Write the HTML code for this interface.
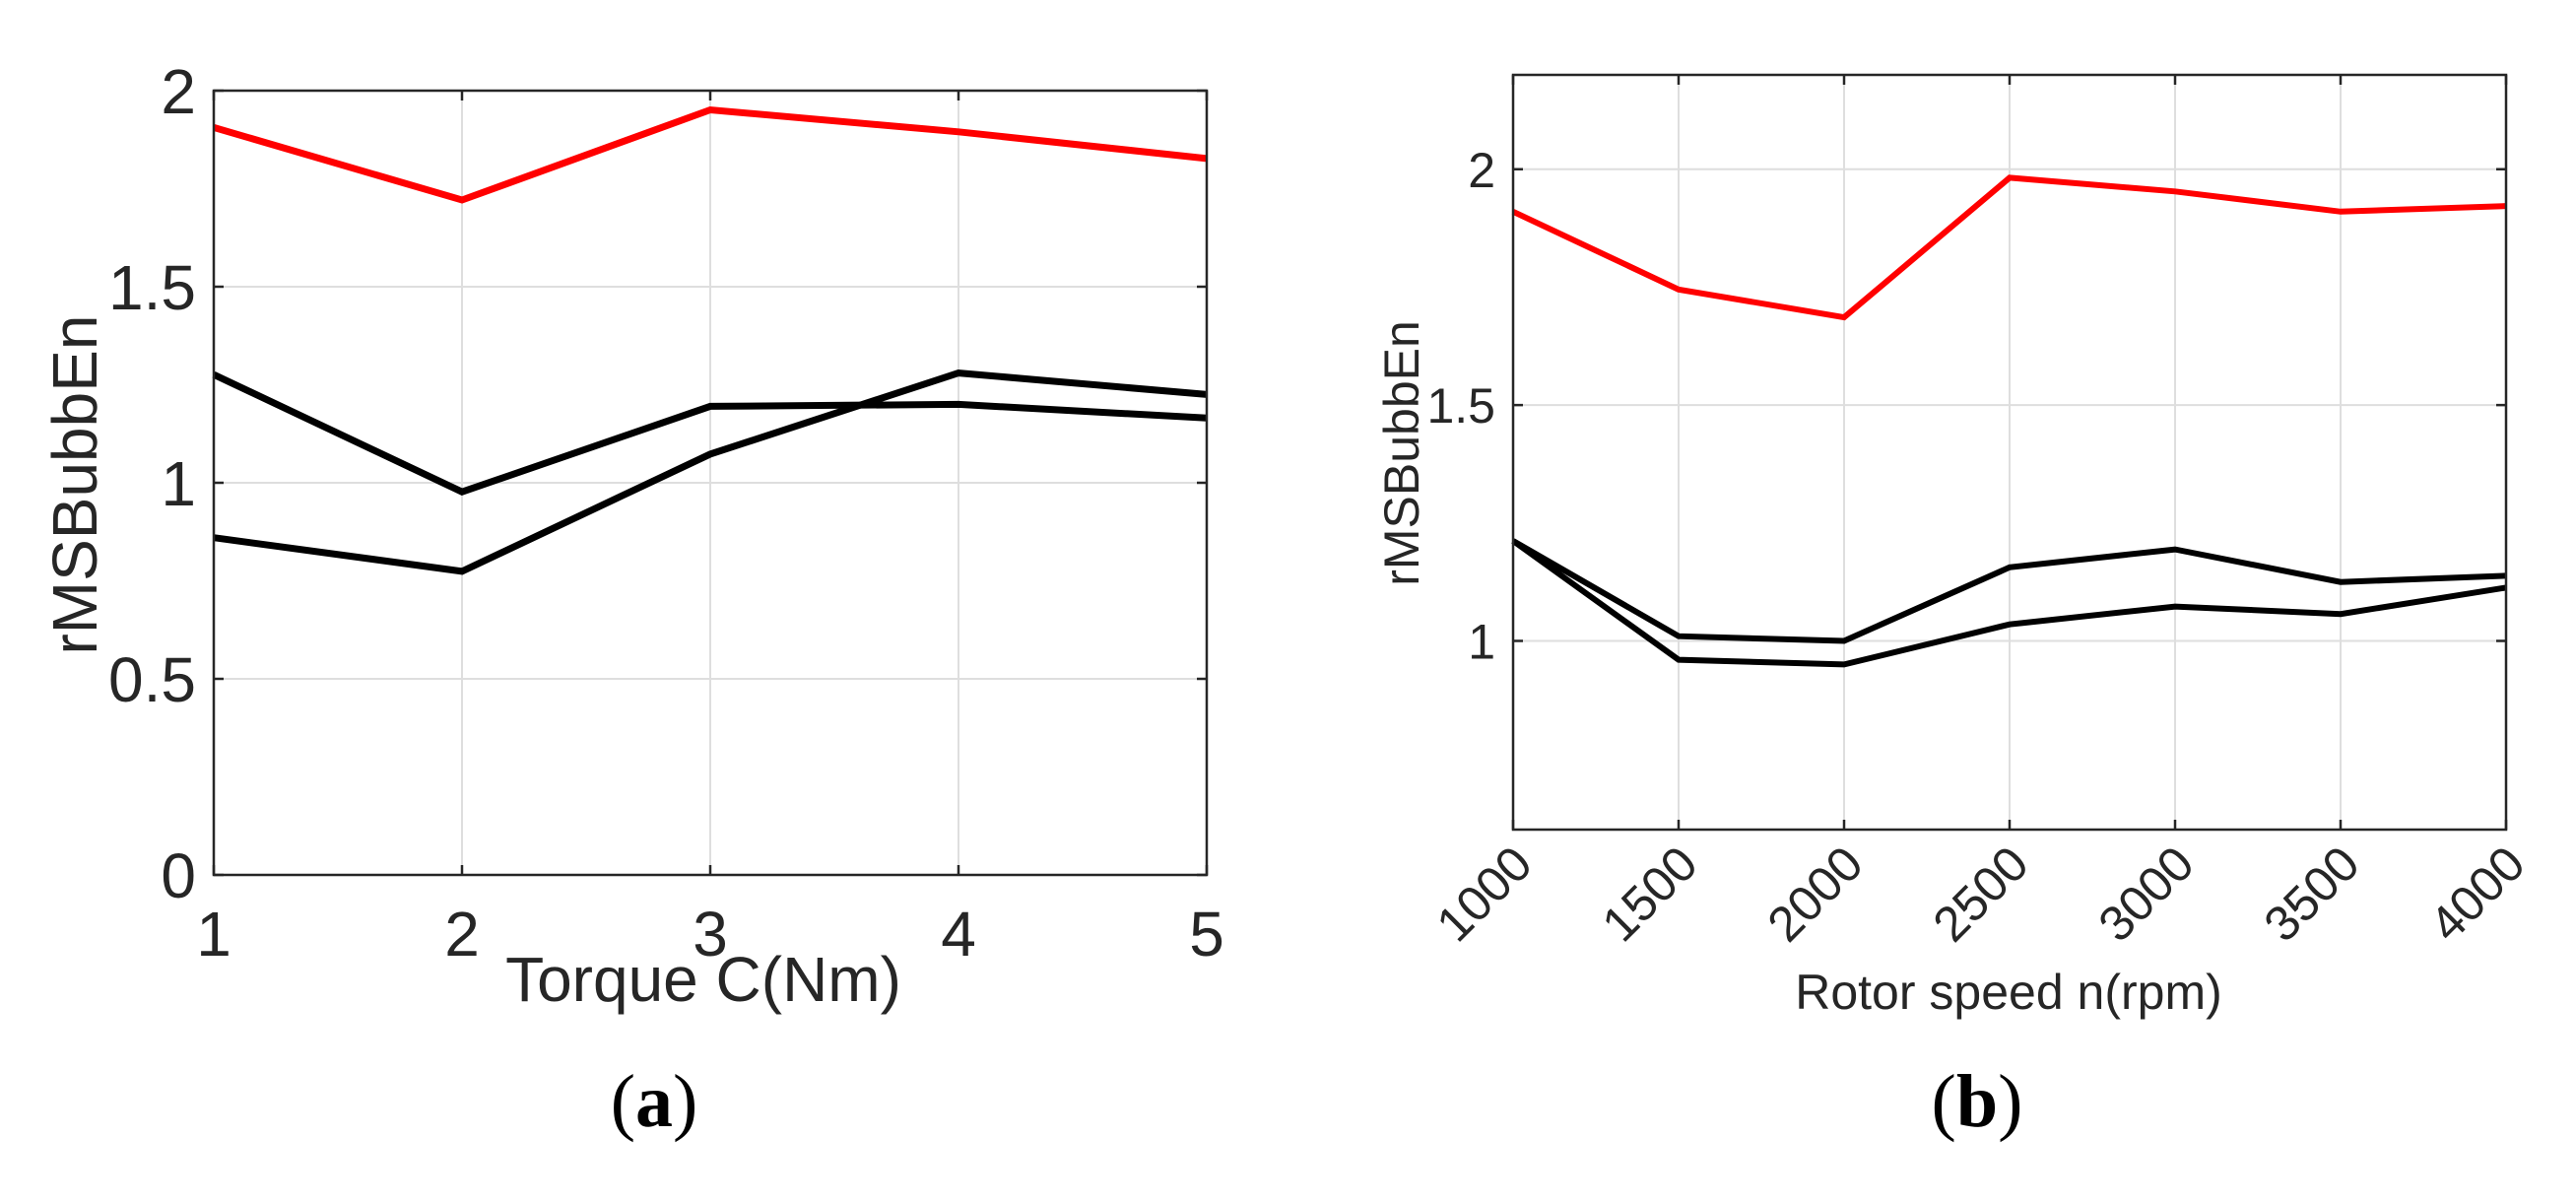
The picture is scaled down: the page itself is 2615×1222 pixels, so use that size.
<!DOCTYPE html>
<html><head><meta charset="utf-8"><style>
html,body{margin:0;padding:0;background:#fff;}
svg{display:block;font-family:"Liberation Sans",sans-serif;}
</style></head><body>
<svg id="fig" width="2615" height="1222" viewBox="0 0 2615 1222">
<g id="chartA"></g>
<g id="chartB"></g>
</svg>
<script>
// Chart (a)
const torqueCats = [1, 2, 3, 4, 5];
const aRed = [1.906, 1.721, 1.951, 1.895, 1.827];
const aBlack1 = [1.276, 0.977, 1.195, 1.20, 1.165];
const aBlack2 = [0.86, 0.774, 1.073, 1.28, 1.225];
const aYTicks = [0, 0.5, 1, 1.5, 2];
const aYTickLabels = ["0", "0.5", "1", "1.5", "2"];
// Chart (b)
const speedCats = [1000, 1500, 2000, 2500, 3000, 3500, 4000];
const bRed = [1.91, 1.745, 1.686, 1.982, 1.953, 1.91, 1.922];
const bBlack1 = [1.212, 1.01, 1.0, 1.156, 1.194, 1.125, 1.138];
const bBlack2 = [1.212, 0.96, 0.95, 1.035, 1.073, 1.057, 1.113];
const bYTicks = [1, 1.5, 2];
const bYTickLabels = ["1", "1.5", "2"];

const NS = "http://www.w3.org/2000/svg";
function mk(parent, tag, attrs, text) {
  const e = document.createElementNS(NS, tag);
  for (const k in attrs) e.setAttribute(k, attrs[k]);
  if (text !== undefined) e.textContent = text;
  parent.appendChild(e);
  return e;
}

function drawChart(g, cfg) {
  const sx = v => cfg.x0 + (v - cfg.xmin) / (cfg.xmax - cfg.xmin) * (cfg.x1 - cfg.x0);
  const sy = v => cfg.y1 - (v - cfg.ymin) / (cfg.ymax - cfg.ymin) * (cfg.y1 - cfg.y0);
  cfg.xcats.forEach(c => {
    const l = mk(g, "line", {x1: sx(c), x2: sx(c), y1: cfg.y0, y2: cfg.y1, stroke: "#dedede", "stroke-width": 2});
    
    
  });
  cfg.yticks.forEach(t => {
    const l = mk(g, "line", {x1: cfg.x0, x2: cfg.x1, y1: sy(t), y2: sy(t), stroke: "#dedede", "stroke-width": 2});
    
    
  });
  cfg.series.forEach(s => {
    const pts = cfg.xcats.map((c, i) => sx(c).toFixed(1) + "," + sy(s.vals[i]).toFixed(1)).join(" ");
    const p = mk(g, "polyline", {points: pts, fill: "none", stroke: s.color, "stroke-width": cfg.lw, "stroke-linejoin": "miter"});
    
    
  });
  const box = mk(g, "rect", {x: cfg.x0, y: cfg.y0, width: cfg.x1 - cfg.x0, height: cfg.y1 - cfg.y0, fill: "none", stroke: "#262626", "stroke-width": 2.5});
  
  
  cfg.xcats.forEach(c => {
    mk(g, "line", {x1: sx(c), x2: sx(c), y1: cfg.y1, y2: cfg.y1 - 10, stroke: "#262626", "stroke-width": 2.5});
    mk(g, "line", {x1: sx(c), x2: sx(c), y1: cfg.y0, y2: cfg.y0 + 10, stroke: "#262626", "stroke-width": 2.5});
  });
  cfg.yticks.forEach((t, i) => {
    mk(g, "line", {x1: cfg.x0, x2: cfg.x0 + 10, y1: sy(t), y2: sy(t), stroke: "#262626", "stroke-width": 2.5});
    mk(g, "line", {x1: cfg.x1, x2: cfg.x1 - 10, y1: sy(t), y2: sy(t), stroke: "#262626", "stroke-width": 2.5});
    const tx = mk(g, "text", {x: cfg.x0 - 18, y: sy(t) + cfg.tfs * 0.36, "text-anchor": "end", "font-size": cfg.tfs, fill: "#262626"}, cfg.ylabels[i]);
    
    
  });
  cfg.xcats.forEach((c, i) => {
    let tx;
    if (cfg.rotate) {
      tx = mk(g, "text", {x: 0, y: 0, "text-anchor": "end", "font-size": cfg.xfs, fill: "#262626",
        transform: "translate(" + (sx(c) + 22) + "," + (cfg.y1 + 38) + ") rotate(-45)"}, String(c));
    } else {
      tx = mk(g, "text", {x: sx(c), y: cfg.y1 + 82, "text-anchor": "middle", "font-size": cfg.xfs, fill: "#262626"}, String(c));
    }
    
    
  });
  const xt = mk(g, "text", {x: cfg.xtX, y: cfg.xtY, "text-anchor": "middle", "font-size": cfg.xtfs, fill: "#262626"}, cfg.xtitle);
  
  
  const yt = mk(g, "text", {x: 0, y: 0, "text-anchor": "middle", "font-size": cfg.ytfs, fill: "#262626",
    transform: "translate(" + cfg.ytX + "," + cfg.ytY + ") rotate(-90)"}, "rMSBubbEn");
  
  
  const cap = mk(g, "text", {x: cfg.capX, y: 1143, "text-anchor": "middle", "font-size": 76, fill: "#000",
    "font-family": "Liberation Serif, serif"});
  mk(cap, "tspan", {}, "(");
  mk(cap, "tspan", {"font-weight": "bold"}, cfg.cap);
  mk(cap, "tspan", {}, ")");
  
  
}

drawChart(document.getElementById("chartA"), {
  x0: 217, x1: 1225, y0: 92, y1: 888, xmin: 1, xmax: 5, ymin: 0, ymax: 2,
  xcats: torqueCats, yticks: aYTicks, ylabels: aYTickLabels, lw: 7, tfs: 64, xfs: 64,
  rotate: false, xtitle: "Torque C(Nm)", xtX: 714, xtY: 1016, xtfs: 64, ytX: 98, ytY: 492, ytfs: 64,
  capX: 664, cap: "a",
  series: [
    {name: "red-series-a", color: "#ff0000", vals: aRed},
    {name: "black-series-a-1", color: "#000", vals: aBlack1},
    {name: "black-series-a-2", color: "#000", vals: aBlack2}
  ]
});
drawChart(document.getElementById("chartB"), {
  x0: 1536, x1: 2544, y0: 76, y1: 842, xmin: 1000, xmax: 4000, ymin: 0.6, ymax: 2.2,
  xcats: speedCats, yticks: bYTicks, ylabels: bYTickLabels, lw: 6, tfs: 50, xfs: 50,
  rotate: true, xtitle: "Rotor speed n(rpm)", xtX: 2039, xtY: 1024, xtfs: 50, ytX: 1440, ytY: 460, ytfs: 50,
  capX: 2007, cap: "b",
  series: [
    {name: "red-series-b", color: "#ff0000", vals: bRed},
    {name: "black-series-b-1", color: "#000", vals: bBlack1},
    {name: "black-series-b-2", color: "#000", vals: bBlack2}
  ]
});
</script>
</body></html>
